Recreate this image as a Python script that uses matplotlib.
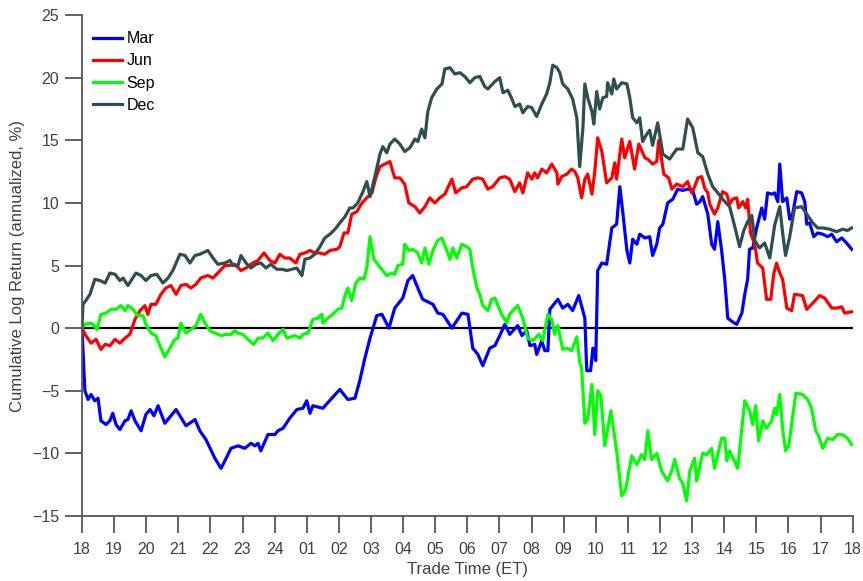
import matplotlib.pyplot as plt

# hours since 18:00 ET, cumulative log return (annualized, %)
mar_t = [0, 0.09, 0.19, 0.28, 0.40, 0.50, 0.59, 0.75, 0.87, 0.96, 1.06, 1.18, 1.34, 1.43, 1.53, 1.65,
         1.84, 1.99, 2.12, 2.24, 2.37, 2.58, 2.93, 3.24, 3.52, 3.67, 3.86, 4.14, 4.33, 4.45, 4.64, 4.86,
         5.07, 5.26, 5.39, 5.48, 5.57, 5.79, 6.01, 6.10, 6.26, 6.47, 6.69, 6.88, 7.00, 7.10, 7.19, 7.50,
         7.78, 8.03, 8.28, 8.50, 8.65, 8.81, 8.97, 9.18, 9.34, 9.56, 9.74, 9.99, 10.15, 10.30, 10.46,
         10.61, 10.93, 11.08, 11.24, 11.52, 11.83, 12.02, 12.17, 12.33, 12.48, 12.70, 12.86, 13.01,
         13.17, 13.32, 13.57, 13.70, 13.85, 13.95, 14.10, 14.16, 14.32, 14.41, 14.51, 14.57, 14.82,
         14.97, 15.13, 15.28, 15.47, 15.66, 15.72, 15.84, 15.91, 16.00, 16.06, 16.19, 16.34, 16.50,
         16.65, 16.75, 16.84, 16.97, 17.06, 17.15, 17.28, 17.37, 17.53, 17.68, 17.77, 17.90, 17.99,
         18.09, 18.24, 18.40, 18.55, 18.71, 18.86, 19.02, 19.14, 19.24, 19.33, 19.49, 19.61, 19.70,
         19.80, 19.92, 20.02, 20.11, 20.26, 20.39, 20.55, 20.64, 20.73, 20.79, 20.89, 21.01, 21.17,
         21.26, 21.35, 21.48, 21.57, 21.67, 21.73, 21.82, 21.95, 22.04, 22.13, 22.26, 22.41, 22.51,
         22.57, 22.66, 22.79, 22.91, 23.07, 23.22, 23.35, 23.50, 23.66, 23.81, 23.97]
mar_v = [0, -5.0, -5.7, -5.3, -5.8, -5.6, -7.4, -7.7, -7.4, -6.8, -7.7, -8.1, -7.4, -7.3, -6.6, -7.4,
         -8.2, -6.9, -6.5, -7.0, -6.2, -7.6, -6.5, -7.8, -7.3, -8.2, -8.9, -10.4, -11.2, -10.6, -9.6, -9.4,
         -9.6, -9.2, -9.4, -9.2, -9.8, -8.5, -8.5, -8.2, -8.0, -7.2, -6.5, -6.4, -5.8, -6.8, -6.2, -6.4,
         -5.6, -4.9, -5.7, -5.6, -4.2, -2.4, -0.8, 1.0, 1.1, 0.0, 1.6, 2.4, 3.8, 4.2, 3.2,
         2.3, 1.9, 1.2, 1.1, 0.0, 1.2, 1.1, -1.6, -2.1, -3.0, -1.6, -1.4, -0.6,
         0.3, -0.5, 0.2, -0.6, -0.2, -1.4, -1.3, -2.1, -1.0, -1.8, -1.8, 1.5, 2.3,
         1.6, 1.9, 1.4, 2.6, 0.8, -3.4, -3.4, -1.6, -2.6, 4.6, 5.2, 5.1, 8.0,
         8.3, 11.3, 9.3, 6.2, 5.2, 7.1, 6.7, 7.5, 7.2, 7.3, 5.8, 6.7, 8.0,
         8.3, 10.0, 10.3, 11.1, 11.0, 11.1, 11.0, 9.9, 10.1, 10.5, 9.1, 6.7, 6.3,
         8.5, 6.2, 3.8, 0.8, 0.5, 0.3, 1.2, 2.7, 3.9, 6.3, 6.4, 8.0, 9.6,
         8.7, 10.8, 10.7, 10.8, 10.1, 13.1, 10.1, 10.4, 8.7, 9.1, 10.9, 10.8, 10.1,
         8.3, 8.4, 7.3, 7.6, 7.5, 7.3, 7.5, 6.9, 7.2, 6.8, 6.3]

jun_t = [0, 0.12, 0.28, 0.44, 0.59, 0.72, 0.87, 1.03, 1.18, 1.34, 1.49, 1.65, 1.81, 1.96, 2.05, 2.15,
         2.30, 2.46, 2.61, 2.77, 2.93, 3.08, 3.24, 3.39, 3.55, 3.70, 3.92, 4.08, 4.23, 4.45, 4.61, 4.76,
         4.95, 5.11, 5.32, 5.48, 5.67, 5.85, 6.01, 6.16, 6.32, 6.47, 6.66, 6.79, 6.94, 7.10, 7.25, 7.41,
         7.56, 7.72, 7.94, 8.03, 8.16, 8.28, 8.40, 8.56, 8.72, 8.87, 9.03, 9.15, 9.28, 9.43, 9.59, 9.74,
         9.90, 10.05, 10.18, 10.37, 10.52, 10.68, 10.83, 10.99, 11.14, 11.30, 11.52, 11.64, 11.83,
         11.98, 12.17, 12.33, 12.48, 12.64, 12.79, 13.01, 13.17, 13.32, 13.48, 13.63, 13.73, 13.88,
         14.01, 14.10, 14.19, 14.32, 14.47, 14.63, 14.79, 14.82, 14.94, 15.10, 15.25, 15.35, 15.44,
         15.56, 15.66, 15.75, 15.88, 15.97, 16.06, 16.19, 16.34, 16.50, 16.59, 16.65, 16.81, 16.90,
         17.06, 17.21, 17.34, 17.53, 17.62, 17.77, 17.90, 17.96, 18.12, 18.27, 18.37, 18.52, 18.71,
         18.86, 18.99, 19.08, 19.18, 19.30, 19.39, 19.49, 19.55, 19.70, 19.80, 19.95, 20.08, 20.17,
         20.26, 20.39, 20.45, 20.58, 20.67, 20.73, 20.82, 20.95, 21.04, 21.20, 21.32, 21.45, 21.54,
         21.63, 21.73, 21.82, 21.95, 22.10, 22.19, 22.44, 22.57, 22.76, 22.97, 23.13, 23.35, 23.50,
         23.66, 23.75, 23.97]
jun_v = [0, -0.6, -1.2, -0.9, -1.7, -1.3, -1.4, -0.9, -1.2, -0.8, -0.5, 0.7, 1.4, 1.8, 1.1, 1.9,
         1.9, 2.7, 3.2, 3.4, 2.7, 3.4, 3.5, 3.2, 3.5, 4.0, 4.2, 4.0, 4.4, 5.0, 5.0, 5.1,
         4.6, 4.8, 5.2, 5.4, 6.0, 5.4, 5.2, 5.9, 5.6, 5.6, 5.2, 5.9, 6.0, 6.2, 6.0, 6.0,
         5.9, 6.2, 6.3, 6.5, 7.6, 7.6, 9.1, 9.3, 10.0, 10.4, 10.8, 12.0, 12.9, 13.1, 13.3, 12.0,
         12.0, 11.5, 10.0, 9.7, 9.2, 9.7, 10.4, 10.0, 10.4, 10.7, 11.9, 10.8, 11.2,
         11.3, 11.9, 12.0, 11.9, 11.1, 11.3, 12.0, 12.1, 11.9, 10.9, 11.6, 10.8, 12.4,
         11.9, 12.4, 12.0, 12.7, 12.4, 13.1, 12.4, 11.5, 12.1, 12.3, 12.7, 12.5, 12.0,
         10.4, 11.9, 12.3, 10.7, 12.5, 15.2, 14.1, 11.6, 12.0, 13.2, 11.9, 15.1, 13.6,
         14.9, 12.7, 14.7, 13.6, 13.5, 13.1, 13.3, 15.0, 12.3, 12.0, 11.1, 11.5, 11.3,
         11.7, 10.8, 11.3, 12.0, 12.1, 11.2, 10.8, 9.9, 9.1, 9.6, 10.9, 10.7, 9.9,
         10.3, 10.4, 9.6, 10.1, 9.6, 10.3, 7.6, 6.7, 5.2, 4.8, 2.3, 2.3, 4.3,
         5.2, 4.4, 3.9, 1.6, 1.4, 2.7, 2.6, 1.5, 2.0, 2.6, 2.4, 1.6, 1.6,
         1.7, 1.2, 1.3]

sep_t = [0, 0.09, 0.25, 0.34, 0.47, 0.59, 0.75, 0.90, 1.06, 1.21, 1.34, 1.43, 1.59, 1.74, 1.90, 1.99,
         2.15, 2.30, 2.46, 2.58, 2.74, 2.89, 2.99, 3.08, 3.24, 3.39, 3.55, 3.70, 3.83, 3.98, 4.14, 4.33,
         4.48, 4.64, 4.76, 4.86, 5.01, 5.17, 5.35, 5.48, 5.63, 5.79, 5.95, 6.10, 6.26, 6.38, 6.63, 6.79,
         6.88, 7.04, 7.19, 7.35, 7.47, 7.50, 7.66, 7.81, 7.97, 8.09, 8.19, 8.28, 8.40, 8.53, 8.65, 8.78,
         8.87, 8.97, 9.09, 9.21, 9.49, 9.65, 9.74, 9.84, 9.99, 10.05, 10.18, 10.30, 10.46, 10.58, 10.68,
         10.80, 10.93, 11.08, 11.21, 11.36, 11.46, 11.55, 11.67, 11.83, 11.98, 12.08, 12.17, 12.30,
         12.39, 12.48, 12.64, 12.76, 12.86, 13.07, 13.23, 13.32, 13.42, 13.57, 13.73, 13.88, 14.04,
         14.23, 14.35, 14.51, 14.63, 14.72, 14.82, 14.97, 15.10, 15.25, 15.41, 15.50, 15.56, 15.66,
         15.75, 15.88, 15.97, 16.06, 16.16, 16.28, 16.47, 16.65, 16.81, 16.93, 17.12, 17.28, 17.43,
         17.53, 17.62, 17.74, 17.90, 18.05, 18.24, 18.37, 18.46, 18.61, 18.71, 18.83, 18.93, 19.08,
         19.14, 19.33, 19.46, 19.61, 19.70, 19.92, 20.02, 20.08, 20.17, 20.42, 20.64, 20.79, 20.89,
         20.98, 21.07, 21.20, 21.32, 21.48, 21.57, 21.63, 21.73, 21.82, 21.91, 22.01, 22.23, 22.44,
         22.60, 22.72, 22.85, 22.94, 23.07, 23.22, 23.38, 23.53, 23.66, 23.75, 23.84, 23.97]
sep_v = [0, 0.3, 0.4, 0.3, -0.1, 1.1, 1.2, 1.5, 1.5, 1.8, 1.4, 1.8, 1.5, 1.0, 1.0, 0.3,
         -0.4, -0.6, -1.6, -2.3, -1.6, -0.9, -0.8, 0.4, -0.4, -0.1, 0.2, 1.1, 0.4, -0.2, -0.4, -0.6,
         -0.5, -0.5, -0.2, -0.4, -0.5, -0.9, -1.3, -0.8, -0.8, -0.4, -1.0, -0.5, -0.1, -0.8, -0.6, -0.8,
         -0.5, -0.4, 0.7, 0.8, 1.1, 0.4, 0.8, 1.1, 1.5, 1.6, 2.6, 3.2, 2.2, 3.6, 4.0, 3.9,
         4.8, 7.3, 5.5, 5.1, 4.2, 4.4, 4.3, 5.0, 5.1, 6.7, 6.2, 6.3, 6.0, 5.2, 6.4,
         5.1, 6.2, 7.0, 7.2, 6.2, 5.5, 6.4, 5.6, 6.7, 6.5, 6.3, 4.8, 3.2,
         2.7, 1.8, 1.4, 2.3, 2.4, 1.1, 0.4, 1.1, 1.4, 1.8, 0.8, -0.8, -1.0,
         -0.5, -1.0, 1.1, 0.7, -0.5, 0.2, -1.7, -1.6, -1.8, -0.7, -2.7, -3.2, -7.6,
         -7.3, -4.5, -8.5, -5.0, -5.4, -9.4, -6.6, -9.8, -13.4, -12.9, -10.2, -10.9, -10.1,
         -10.5, -8.2, -10.5, -10.0, -11.4, -12.2, -11.4, -10.5, -12.0, -12.4, -13.8, -11.4, -10.4,
         -12.2, -10.0, -10.1, -9.6, -11.2, -8.8, -8.8, -10.6, -9.8, -11.2, -5.8, -6.6, -7.7,
         -6.2, -9.0, -7.4, -8.0, -7.4, -6.4, -6.9, -5.3, -8.0, -9.8, -9.4, -5.2, -5.3,
         -5.7, -6.4, -8.2, -8.6, -9.6, -8.8, -8.9, -8.5, -8.5, -8.6, -8.8, -9.3]

dec_t = [0, 0.03, 0.12, 0.25, 0.40, 0.56, 0.72, 0.87, 1.03, 1.18, 1.28, 1.43, 1.53, 1.68, 1.84, 1.99,
         2.15, 2.33, 2.52, 2.68, 2.83, 2.93, 3.05, 3.21, 3.36, 3.52, 3.67, 3.92, 4.08, 4.23, 4.45, 4.61,
         4.70, 4.86, 4.95, 5.11, 5.26, 5.42, 5.57, 5.73, 5.88, 6.07, 6.23, 6.38, 6.54, 6.69, 6.85, 6.94,
         7.10, 7.25, 7.41, 7.56, 7.72, 7.88, 8.03, 8.19, 8.34, 8.44, 8.59, 8.75, 8.87, 8.97, 9.12, 9.28,
         9.37, 9.49, 9.59, 9.74, 9.90, 10.05, 10.21, 10.37, 10.46, 10.58, 10.68, 10.77, 10.89, 11.05,
         11.21, 11.30, 11.46, 11.61, 11.77, 11.92, 12.08, 12.23, 12.39, 12.54, 12.64, 12.86, 13.01,
         13.11, 13.26, 13.39, 13.48, 13.63, 13.73, 13.88, 14.01, 14.16, 14.32, 14.47, 14.57, 14.66,
         14.79, 14.88, 14.97, 15.13, 15.28, 15.41, 15.50, 15.60, 15.66, 15.75, 15.88, 15.94, 16.03,
         16.12, 16.22, 16.34, 16.37, 16.50, 16.56, 16.65, 16.81, 16.97, 17.06, 17.15, 17.28, 17.37,
         17.46, 17.59, 17.68, 17.77, 17.93, 18.09, 18.30, 18.52, 18.71, 18.86, 19.02, 19.18, 19.33,
         19.49, 19.64, 19.77, 19.95, 20.17, 20.33, 20.48, 20.61, 20.73, 20.86, 20.95, 21.10, 21.26,
         21.42, 21.57, 21.73, 21.82, 21.91, 22.04, 22.19, 22.41, 22.57, 22.76, 22.91, 23.07, 23.29,
         23.50, 23.69, 23.84, 23.97]
dec_v = [0, 1.9, 2.2, 2.7, 3.9, 3.8, 3.6, 4.4, 4.3, 3.8, 4.0, 3.4, 3.8, 4.4, 4.2, 3.8,
         4.2, 4.3, 3.6, 4.0, 4.6, 5.2, 5.9, 5.8, 5.2, 5.8, 5.9, 6.2, 5.6, 5.1, 5.2, 5.4,
         5.0, 5.0, 5.8, 5.2, 4.8, 5.1, 5.2, 4.8, 5.1, 4.7, 4.7, 4.6, 4.7, 4.8, 4.2, 5.5,
         5.6, 5.9, 6.5, 7.2, 7.5, 7.9, 8.4, 8.9, 9.6, 9.6, 10.0, 10.9, 11.7, 10.5, 12.1, 13.9,
         14.5, 14.0, 14.7, 15.1, 14.7, 14.1, 14.4, 15.1, 14.9, 15.9, 15.2, 17.3, 18.4, 19.1,
         19.5, 20.7, 20.8, 20.3, 20.4, 20.1, 19.6, 20.0, 20.1, 19.3, 19.1, 19.7, 20.0,
         18.8, 19.0, 18.3, 17.7, 17.9, 17.2, 17.7, 17.6, 16.9, 17.9, 18.7, 19.6, 21.0,
         20.8, 20.4, 19.5, 19.1, 18.3, 16.8, 12.9, 16.0, 19.5, 18.4, 17.3, 16.3, 18.9,
         17.5, 18.4, 18.5, 19.6, 18.7, 19.9, 19.1, 19.6, 19.5, 18.4, 16.8, 16.4, 16.8,
         14.9, 15.5, 15.8, 14.6, 16.4, 13.9, 13.5, 14.3, 14.3, 16.7, 16.0, 14.0, 13.7,
         12.3, 11.3, 10.9, 10.3, 9.7, 8.1, 6.5, 7.8, 8.5, 9.0, 7.0, 6.4, 6.8,
         5.6, 8.2, 9.7, 7.6, 5.8, 7.3, 9.6, 9.7, 9.1, 8.4, 8.0, 8.0, 7.9,
         7.7, 7.9, 7.8, 8.0]

hour_labels = ['18', '19', '20', '21', '22', '23', '24', '01', '02', '03', '04', '05', '06',
               '07', '08', '09', '10', '11', '12', '13', '14', '15', '16', '17', '18']

plt.rcParams['font.family'] = ['Liberation Sans', 'DejaVu Sans']

fig = plt.figure(figsize=(8.63, 5.81), dpi=100)
ax = fig.add_axes([0.095, 0.112, 0.893, 0.862])

ax.axhline(0, color='black', lw=1.6, zorder=1)
ax.plot(mar_t, mar_v, color='#0000ff', lw=2.3, label='Mar')
ax.plot(jun_t, jun_v, color='#ff0000', lw=2.3, label='Jun')
ax.plot(sep_t, sep_v, color='#00ff00', lw=2.3, label='Sep')
ax.plot(dec_t, dec_v, color='#2f4f4f', lw=2.3, label='Dec')

ax.set_xlim(0, 24)
ax.set_ylim(-15, 25)
ax.set_xticks(range(25))
ax.set_xticklabels(hour_labels)
ax.set_yticks(range(-15, 26, 5))

for s in ['top', 'right']:
    ax.spines[s].set_visible(False)
for s in ['left', 'bottom']:
    ax.spines[s].set_color('#555555')
    ax.spines[s].set_linewidth(1.3)
ax.tick_params(direction='out', length=12.5, width=1.3, color='#555555',
               labelcolor='#404040', labelsize=11.5)
ax.tick_params(axis='x', pad=6)
ax.tick_params(axis='y', pad=4)

ax.set_xlabel('Trade Time (ET)', fontsize=12, color='#404040', labelpad=4)
ax.set_ylabel('Cumulative Log Return (annualized, %)', fontsize=12, color='#404040', labelpad=5)

leg = ax.legend(loc='upper left', frameon=False, fontsize=11.5, handlelength=1.8,
                handletextpad=0.3, labelspacing=0.45, borderaxespad=0.3,
                bbox_to_anchor=(0.0, 0.99))

fig.savefig('out.png', dpi=100)
